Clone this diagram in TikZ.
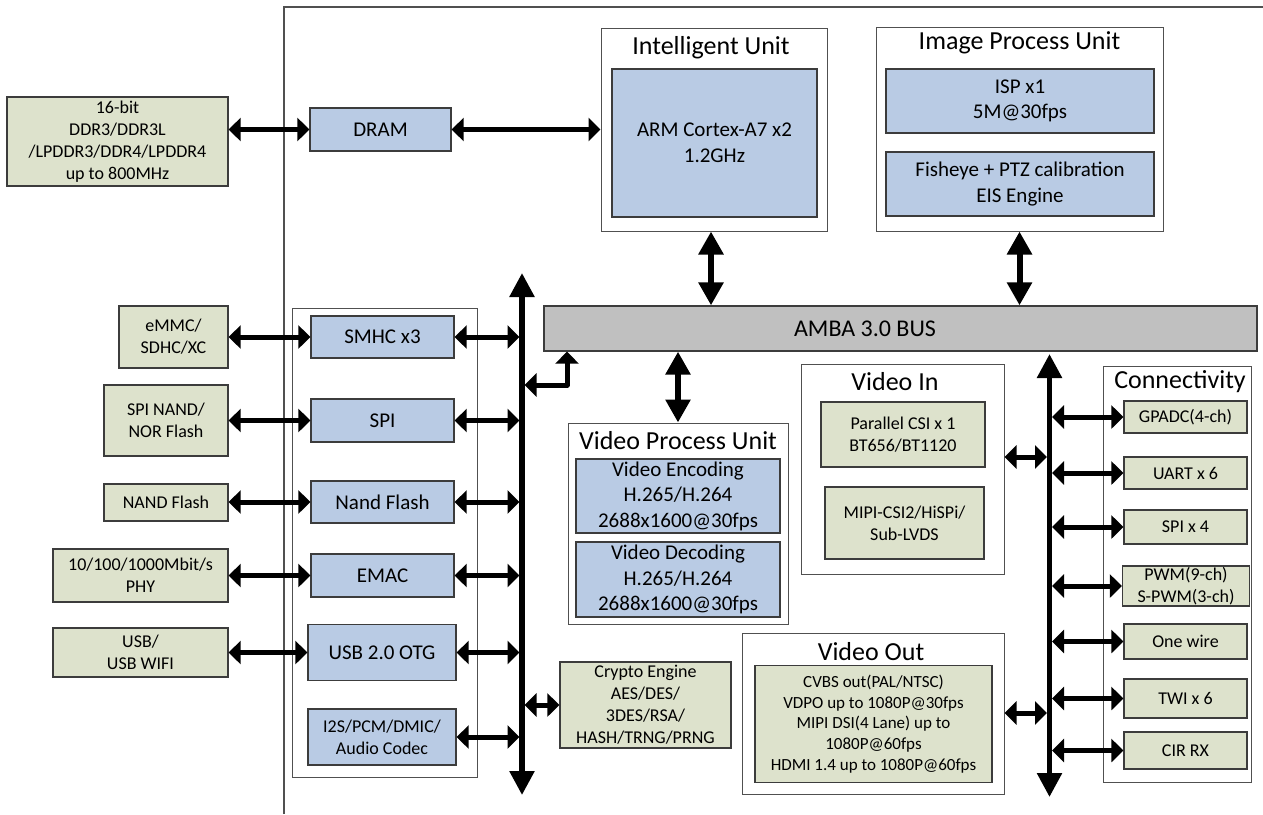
\documentclass[tikz,border=0pt]{standalone}
\usepackage{fontspec}
\setmainfont{Carlito}
\usetikzlibrary{arrows.meta}
\definecolor{grn}{HTML}{DDE2CC}
\definecolor{blu}{HTML}{B9CBE4}
\definecolor{busg}{HTML}{C0C0C0}
\definecolor{edgec}{HTML}{3C3C3C}
\definecolor{framec}{HTML}{505050}
\tikzset{
  wh/.style 2 args={minimum width=#1pt, minimum height=#2pt},
  grpbox/.style={draw=framec, line width=1pt, fill=white, inner sep=0pt},
  greenbox/.style={draw=edgec, line width=1.3pt, fill=grn, inner sep=0pt, align=center, font=\fontsize{18}{22}\selectfont},
  bluebox/.style={draw=edgec, line width=1.3pt, fill=blu, inner sep=0pt, align=center, font=\fontsize{21}{25.5}\selectfont},
  titletext/.style={inner sep=0pt, font=\fontsize{26}{30}\selectfont},
  harr/.style={line width=5pt, line join=round, {Triangle[length=12pt,width=23pt]}-{Triangle[length=12pt,width=23pt]}},
  varr/.style={line width=6pt, {Triangle[length=23pt,width=24pt]}-{Triangle[length=23pt,width=24pt]}},
  busline/.style={line width=5.5pt, {Triangle[length=24pt,width=24pt]}-{Triangle[length=24pt,width=24pt]}},
}
\begin{document}
\begin{tikzpicture}[x=1pt,y=-1pt]
\fill[white] (0,0) rectangle (1263,814);
\useasboundingbox (0,0) rectangle (1263,814);
\draw[framec, line width=1.2pt] (284,814) -- (284,7) -- (1263,7);

% ---------- coordinates for bus lines ----------
\coordinate (busLtop) at (522,273);
\coordinate (busLbot) at (522,795);
\coordinate (busLl) at (519.5,0);
\coordinate (busLr) at (524.5,0);
\coordinate (busRtop) at (1049.5,354);
\coordinate (busRbot) at (1049.5,797);
\coordinate (busRl) at (1047,0);
\coordinate (busRr) at (1052,0);
\coordinate (yvin) at (0,457);
\coordinate (yvout) at (0,713);
\coordinate (elbA) at (524.5,385);
\coordinate (elbB) at (567,385);

% ---------- group boxes ----------
\node[grpbox, wh={226}{203}] (intel) at (714,129.5) {};
\node[titletext] (intelT) at (711,48) {Intelligent Unit};
\node[grpbox, wh={287}{204}] (ipu) at (1019.5,129) {};
\node[titletext] (ipuT) at (1019.5,43) {Image Process Unit};
\node[grpbox, wh={185}{469}] (lpanel) at (384.5,542.5) {};
\node[grpbox, wh={220}{201}] (vpu) at (678,523.5) {};
\node[titletext] (vpuT) at (678,441) {Video Process Unit};
\node[grpbox, wh={203}{210}] (vin) at (902.5,469) {};
\node[titletext] (vinT) at (895,382) {Video In};
\node[grpbox, wh={262}{161}] (vout) at (873,713.5) {};
\node[titletext] (voutT) at (871,652) {Video Out};
\node[grpbox, wh={148}{416}] (conn) at (1177,574) {};
\node[titletext] (connT) at (1180,382) {Connectivity};

% ---------- bus ----------
\node[draw=edgec, line width=1.3pt, fill=busg, wh={713}{45}] (bus) at (900.5,328.5) {};
\node[inner sep=0pt, font=\fontsize{24}{28}\selectfont] (busT) at (865,328.5) {AMBA 3.0 BUS};

% ---------- inner boxes ----------
\node[bluebox, wh={205}{148}] (arm) at (714.5,143) {ARM Cortex-A7 x2\\1.2GHz};
\node[bluebox, wh={268}{64}] (isp) at (1020,101) {ISP x1\\5M@30fps};
\node[bluebox, wh={268}{64}] (fish) at (1020,184) {Fisheye + PTZ calibration\\EIS Engine};
\node[bluebox, wh={141}{43}] (dram) at (380.5,129.5) {DRAM};

\node[bluebox, wh={143}{42}] (smhc) at (382.5,337) {SMHC x3};
\node[bluebox, wh={143}{43}] (spi) at (382.5,420.5) {SPI};
\node[bluebox, wh={143}{42}] (nand) at (382.5,502) {Nand Flash};
\node[bluebox, wh={143}{43}] (emac) at (382.5,575.5) {EMAC};
\node[bluebox, wh={148}{56}] (otg) at (382,652.5) {USB 2.0 OTG};
\node[bluebox, wh={148}{56}, font=\fontsize{18}{22}\selectfont] (i2s) at (382,737) {I2S/PCM/DMIC/\\Audio Codec};

\node[greenbox, wh={221}{89}] (ddr) at (117.5,141.5) {16-bit\\DDR3/DDR3L\\/LPDDR3/DDR4/LPDDR4\\up to 800MHz};
\node[greenbox, wh={109}{62}] (emmc) at (173.5,337) {eMMC/\\SDHC/XC};
\node[greenbox, wh={124}{71}] (spinand) at (166,420.5) {SPI NAND/\\NOR Flash};
\node[greenbox, wh={124}{37}] (nandx) at (166,502.5) {NAND Flash};
\node[greenbox, wh={175}{53}] (phy) at (140.5,575.5) {10/100/1000Mbit/s\\PHY};
\node[greenbox, wh={175}{49}] (usbx) at (140.5,652.5) {USB/\\USB WIFI};

\node[bluebox, wh={204}{74}] (venc) at (678,496) {Video Encoding\\H.265/H.264\\2688x1600@30fps};
\node[bluebox, wh={204}{75}] (vdec) at (678,579.5) {Video Decoding\\H.265/H.264\\2688x1600@30fps};

\node[greenbox, wh={164}{65}] (pcsi) at (903,434.5) {Parallel CSI x 1\\BT656/BT1120};
\node[greenbox, wh={159}{72}] (mipi) at (904.5,523) {MIPI-CSI2/HiSPi/\\Sub-LVDS};

\node[greenbox, wh={171}{86}] (crypto) at (645.5,705) {Crypto Engine\\AES/DES/\\3DES/RSA/\\HASH/TRNG/PRNG};
\node[greenbox, wh={237}{117}, font=\fontsize{17}{20.8}\selectfont] (vouti) at (873.5,724) {CVBS out(PAL/NTSC)\\VDPO up to 1080P@30fps\\MIPI DSI(4 Lane) up to\\1080P@60fps\\HDMI 1.4 up to 1080P@60fps};

\node[greenbox, wh={123}{32}] (gpadc) at (1185.5,417) {GPADC(4-ch)};
\node[greenbox, wh={123}{32}] (uart) at (1185.5,473) {UART x 6};
\node[greenbox, wh={123}{34}] (spix) at (1185.5,527) {SPI x 4};
\node[greenbox, wh={127}{40}] (pwm) at (1186,586) {PWM(9-ch)\\S-PWM(3-ch)};
\node[greenbox, wh={123}{35}] (onew) at (1185.5,641.5) {One wire};
\node[greenbox, wh={123}{39}] (twi) at (1185.5,698.5) {TWI x 6};
\node[greenbox, wh={123}{37}] (cir) at (1185.5,750.5) {CIR RX};

% ---------- connectors ----------
\draw[busline] (busLtop) -- (busLbot);
\draw[busline] (busRtop) -- (busRbot);

\draw[harr] (ddr.east |- dram.west) -- (dram.west);
\draw[harr] (dram.east) -- (dram.east -| intel.west);
\draw[harr] (emmc.east |- smhc.west) -- (smhc.west);
\draw[harr] (spinand.east |- spi.west) -- (spi.west);
\draw[harr] (nandx.east |- nand.west) -- (nand.west);
\draw[harr] (phy.east |- emac.west) -- (emac.west);
\draw[harr] (usbx.east |- otg.west) -- (otg.west);

\foreach \n in {smhc,spi,nand,emac,otg,i2s}
  \draw[harr] (\n.east) -- (\n.east -| busLl);

\draw[harr] (crypto.west -| busLr) -- (crypto.west);
\draw[harr] (elbA) -- (elbB) -- (elbB |- bus.south);

\draw[varr] ([xshift=-3pt]intel.south) -- ([xshift=-3pt]intel.south |- bus.north);
\draw[varr] (ipu.south) -- (ipu.south |- bus.north);
\draw[varr] (vpu.north) -- (vpu.north |- bus.south);

\draw[harr] (vin.east |- yvin) -- (busRl |- yvin);
\draw[harr] (vout.east |- yvout) -- (busRl |- yvout);

\foreach \n in {gpadc,uart,spix,pwm,onew,twi,cir}
  \draw[harr] (\n.west -| busRr) -- (\n.west);
\end{tikzpicture}
\end{document}
